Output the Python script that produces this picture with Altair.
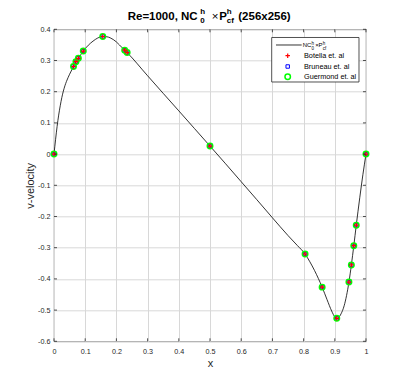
import altair as alt
import pandas as pd

F = "Liberation Sans, Arial, Helvetica, sans-serif"
AX = "#262626"
GRID = "#d8d8d8"

# ---------------- data ----------------
curve_x = [0.0, 0.005, 0.01, 0.015, 0.02, 0.025, 0.03, 0.035, 0.04, 0.045, 0.05, 0.055,
           0.0625, 0.0703, 0.0781, 0.0938, 0.11, 0.125, 0.14, 0.1563, 0.17, 0.18, 0.19,
           0.2, 0.21, 0.2266, 0.2344, 0.3, 0.35, 0.4, 0.45, 0.5, 0.55, 0.6, 0.65, 0.7,
           0.75, 0.78, 0.8047, 0.82, 0.835, 0.8594, 0.875, 0.89, 0.9, 0.9063, 0.912,
           0.92, 0.93, 0.9453, 0.9531, 0.9609, 0.9688, 0.98, 0.99, 1.0]
curve_v = [0.0, 0.046, 0.089, 0.125, 0.155, 0.181, 0.202, 0.219, 0.233, 0.245, 0.256, 0.266,
           0.2807, 0.2962, 0.3071, 0.3302, 0.349, 0.362, 0.372, 0.3769, 0.3760, 0.3727, 0.3672,
           0.3595, 0.3496, 0.3330, 0.3253, 0.2511, 0.1947, 0.1386, 0.0822, 0.0258, -0.031,
           -0.0885, -0.146, -0.204, -0.261, -0.293, -0.3202, -0.345, -0.373, -0.4264, -0.466,
           -0.503, -0.522, -0.5264, -0.524, -0.512, -0.486, -0.4103, -0.3553, -0.2936,
           -0.2279, -0.140, -0.066, 0.0]

ref_x = [0.0, 0.0625, 0.0703, 0.0781, 0.0938, 0.1563, 0.2266, 0.2344, 0.5,
         0.8047, 0.8594, 0.9063, 0.9453, 0.9531, 0.9609, 0.9688, 1.0]
botella_v = [0.0, 0.2807, 0.2962, 0.3071, 0.3302, 0.3769, 0.3330, 0.3253, 0.0258,
             -0.3202, -0.4264, -0.5264, -0.4103, -0.3553, -0.2936, -0.2279, 0.0]
bruneau_v = [0.0, 0.2807, 0.2962, 0.3071, 0.3302, 0.3769, 0.3330, 0.3253, 0.0258,
             -0.3202, -0.4264, -0.5264, -0.4103, -0.3553, -0.2936, -0.2279, 0.0]
guermond_v = [0.0, 0.2807, 0.2962, 0.3071, 0.3302, 0.3769, 0.3330, 0.3253, 0.0258,
              -0.3202, -0.4264, -0.5264, -0.4103, -0.3553, -0.2936, -0.2279, 0.0]

x_ticks = [0, 0.1, 0.2, 0.3, 0.4, 0.5, 0.6, 0.7, 0.8, 0.9, 1]
y_ticks = [-0.6, -0.5, -0.4, -0.3, -0.2, -0.1, 0, 0.1, 0.2, 0.3, 0.4]

W = 312
H = 312

curve_df = pd.DataFrame({"x": curve_x, "v": curve_v})
bot_df = pd.DataFrame({"x": ref_x, "v": botella_v})
bru_df = pd.DataFrame({"x": ref_x, "v": bruneau_v})
gue_df = pd.DataFrame({"x": ref_x, "v": guermond_v})
xt_df = pd.DataFrame({"x": x_ticks})
yt_df = pd.DataFrame({"v": y_ticks})
dummy = pd.DataFrame({"k": [0]})

xs = alt.Scale(domain=[0, 1], nice=False, zero=False)
ys = alt.Scale(domain=[-0.6, 0.4], nice=False, zero=False)

lab_expr = "datum.value < 0 ? '-' + format(-datum.value, '~g') : format(datum.value, '~g')"

x_axis = alt.Axis(values=x_ticks, grid=True, gridColor=GRID, gridOpacity=1, gridWidth=1,
                  ticks=False, domain=False, labelExpr=lab_expr, labelFont=F,
                  labelFontSize=7.2, labelColor=AX, labelPadding=6, labelFlush=False,
                  labelOverlap=False, title="x", titleFont=F, titleFontSize=11,
                  titleFontWeight="normal", titleColor=AX, titlePadding=3)
y_axis = alt.Axis(values=y_ticks, grid=True, gridColor=GRID, gridOpacity=1, gridWidth=1,
                  ticks=False, domain=False, labelExpr=lab_expr, labelFont=F,
                  labelFontSize=7.2, labelColor=AX, labelPadding=4, labelFlush=False,
                  labelOverlap=False, title="v-velocity", titleFont=F, titleFontSize=11,
                  titleFontWeight="normal", titleColor=AX, titlePadding=2)

X = alt.X("x:Q", scale=xs, axis=x_axis)
Y = alt.Y("v:Q", scale=ys, axis=y_axis)

curve = alt.Chart(curve_df).mark_line(color="black", strokeWidth=0.8, interpolate="monotone").encode(
    x=X, y=Y)

PLUS = "M-1,0L1,0M0,-1L0,1"


def pts(df, shape, color, size, sw):
    return alt.Chart(df).mark_point(shape=shape, filled=False, color=color, size=size,
                                    strokeWidth=sw, opacity=1).encode(x=X, y=Y)


bru = pts(bru_df, "square", "#0000ff", 12, 1)
gue = pts(gue_df, "circle", "#00ff00", 30, 1.5)
bot = pts(bot_df, PLUS, "#ff0000", 20, 1.2)

# inward ticks on all four sides
tick_style = dict(color=AX, strokeWidth=0.8)
xb = alt.Chart(xt_df).mark_rule(**tick_style).encode(x=X, y=alt.value(H), y2=alt.value(H - 3))
xtp = alt.Chart(xt_df).mark_rule(**tick_style).encode(x=X, y=alt.value(0), y2=alt.value(3))
yl = alt.Chart(yt_df).mark_rule(**tick_style).encode(y=Y, x=alt.value(0), x2=alt.value(3))
yr = alt.Chart(yt_df).mark_rule(**tick_style).encode(y=Y, x=alt.value(W), x2=alt.value(W - 3))


def txt(s, x, y, size, bold=False, color="black", baseline="alphabetic"):
    return alt.Chart(dummy).mark_text(text=s, font=F, fontSize=size,
                                      fontWeight="bold" if bold else "normal",
                                      color=color, align="left", baseline=baseline).encode(
        x=alt.value(x), y=alt.value(y))


# title: Re=1000, NC_0^h x P_cf^h (256x256)
title = [
    txt("Re=1000, NC", 73.7, -9.3, 11.5, True),
    txt("h", 146.2, -15.3, 8, True),
    txt("0", 146.2, -6.6, 8, True),
    txt("\u00d7", 157.7, -9.3, 11.5, False),
    txt("P", 165.2, -9.3, 11.5, True),
    txt("h", 172.8, -15.3, 8, True),
    txt("cf", 172.8, -6.6, 8, True),
    txt("(256x256)", 184.3, -9.3, 11.5, True),
]

# legend
box = alt.Chart(dummy).mark_rect(fill="white", stroke=AX, strokeWidth=0.8).encode(
    x=alt.value(217.7), x2=alt.value(305), y=alt.value(8.2), y2=alt.value(52.7))
leg_line = alt.Chart(dummy).mark_rule(color="black", strokeWidth=0.8).encode(
    x=alt.value(222), x2=alt.value(247.7), y=alt.value(15.7))


def leg_pt(shape, color, size, sw, y):
    return alt.Chart(dummy).mark_point(shape=shape, filled=False, color=color, size=size,
                                       strokeWidth=sw, opacity=1).encode(
        x=alt.value(233.7), y=alt.value(y))


legend = [
    box, leg_line,
    txt("NC", 248.7, 18, 6),
    txt("h", 257.6, 15.6, 4.5),
    txt("0", 257.6, 20.4, 4.5),
    txt("\u00d7", 261.3, 18, 6),
    txt("P", 264.6, 18, 6),
    txt("h", 268.8, 15.6, 4.5),
    txt("cf", 268.8, 20.4, 4.5),
    leg_pt(PLUS, "#ff0000", 20, 1.2, 26.4),
    txt("Botella et. al", 250, 26.6, 7.3, baseline="middle"),
    leg_pt("square", "#0000ff", 12, 1, 37.2),
    txt("Bruneau et. al", 250, 37.4, 7.3, baseline="middle"),
    leg_pt("circle", "#00ff00", 30, 1.5, 47.4),
    txt("Guermond et. al", 250, 47.6, 7.3, baseline="middle"),
]

chart = alt.layer(curve, bru, gue, bot, xb, xtp, yl, yr, *title, *legend).properties(
    width=W, height=H,
    autosize=alt.AutoSizeParams(type="none"),
    padding={"left": 46, "top": 21.3, "right": 33, "bottom": 40},
    background="white",
).configure_view(stroke=AX, strokeWidth=0.8)

chart.save("out.html", embed_options={"renderer": "svg", "actions": False})
